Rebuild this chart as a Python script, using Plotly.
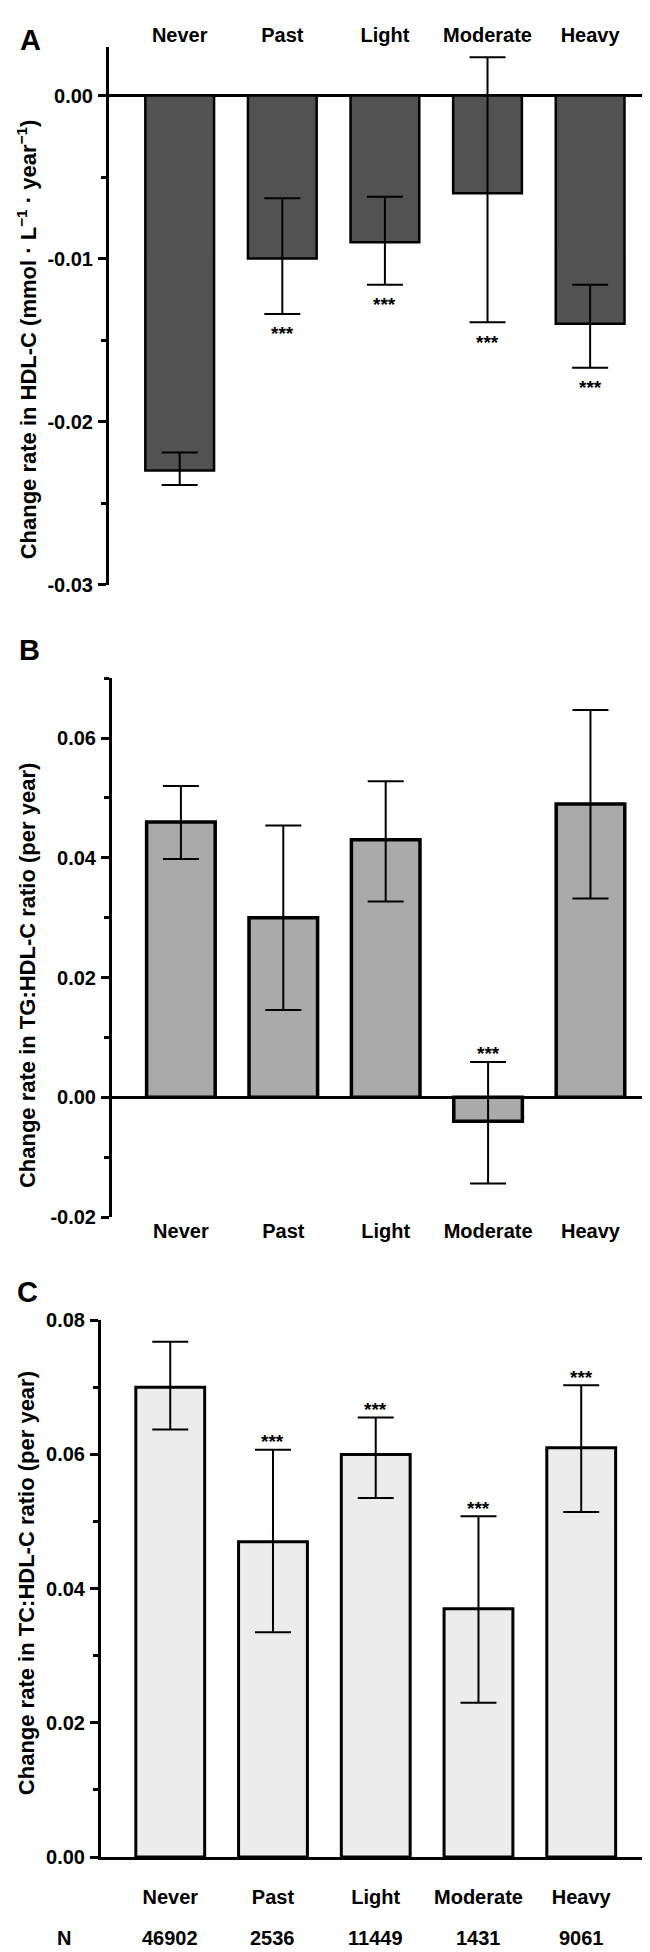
import plotly.graph_objects as go

W, H = 650, 1952
FONT = "Liberation Sans, Arial, Helvetica, sans-serif"

categories = ["Never", "Past", "Light", "Moderate", "Heavy"]
n_counts = ["46902", "2536", "11449", "1431", "9061"]

# Panel A: change rate in HDL-C
hdl_mean = [-0.0230, -0.0100, -0.0090, -0.0060, -0.0140]
hdl_upper = [-0.0219, -0.0063, -0.0062, 0.00235, -0.0116]
hdl_lower = [-0.0239, -0.0134, -0.0116, -0.0139, -0.0167]
hdl_sig = [False, True, True, True, True]

# Panel B: change rate in TG:HDL-C ratio
tg_mean = [0.0460, 0.0300, 0.0430, -0.0040, 0.0490]
tg_upper = [0.0520, 0.0454, 0.0528, 0.0059, 0.0647]
tg_lower = [0.0398, 0.0146, 0.0327, -0.0144, 0.0332]
tg_sig = [False, False, False, True, False]

# Panel C: change rate in TC:HDL-C ratio
tc_mean = [0.0700, 0.0470, 0.0600, 0.0370, 0.0610]
tc_upper = [0.0768, 0.0607, 0.0655, 0.0508, 0.0703]
tc_lower = [0.0637, 0.0335, 0.0535, 0.0230, 0.0514]
tc_sig = [False, True, True, True, True]

yticks_a = [0.0, -0.01, -0.02, -0.03]
yticktext_a = ["0.00", "-0.01", "-0.02", "-0.03"]
yticks_b = [0.06, 0.04, 0.02, 0.0, -0.02]
yticktext_b = ["0.06", "0.04", "0.02", "0.00", "-0.02"]
yticks_c = [0.08, 0.06, 0.04, 0.02, 0.0]
yticktext_c = ["0.08", "0.06", "0.04", "0.02", "0.00"]

titles = [
    "Change rate in HDL-C (mmol · L<sup>−1</sup> · year<sup>−1</sup>)",
    "Change rate in TG:HDL-C ratio (per year)",
    "Change rate in TC:HDL-C ratio (per year)",
]


def px_x(v):
    return v / W


def px_y(v):
    return 1 - v / H


panels = [
    dict(mean=hdl_mean, up=hdl_upper, lo=hdl_lower, sig=hdl_sig, color="#525252", lw=2.5,
         xdom=[101, 648], ydom=[28, 572], xr=[-0.689, 4.642], yr=[-0.03, 0.003],
         tv=yticks_a, tt=yticktext_a, minor=0.005, side="top", stars="below",
         title_xy=(19, 324), letter="A", letter_xy=(22, 21)),
    dict(mean=tg_mean, up=tg_upper, lo=tg_lower, sig=tg_sig, color="#aaaaaa", lw=3.5,
         xdom=[104, 648], ydom=[666.7, 1211.7], xr=[-0.673, 4.64], yr=[-0.02, 0.07],
         tv=yticks_b, tt=yticktext_b, minor=0.01, side="bottom", stars="above",
         title_xy=(19, 968), letter="B", letter_xy=(21, 638)),
    dict(mean=tc_mean, up=tc_upper, lo=tc_lower, sig=tc_sig, color="#ececec", lw=3,
         xdom=[93, 640], ydom=[1316, 1859], xr=[-0.674, 4.65], yr=[0, 0.08],
         tv=yticks_c, tt=yticktext_c, minor=0.01, side="bottom", stars="above",
         title_xy=(18, 1582), letter="C", letter_xy=(19, 1288)),
]

fig = go.Figure()
annotations = []

for i, p in enumerate(panels):
    k = "" if i == 0 else str(i + 1)
    xa, ya = "x" + k, "y" + k
    plus = [u - m for u, m in zip(p["up"], p["mean"])]
    minus = [m - l for m, l in zip(p["mean"], p["lo"])]
    fig.add_trace(go.Bar(
        x=categories, y=p["mean"], xaxis=xa, yaxis=ya,
        marker=dict(color=p["color"], line=dict(color="black", width=p["lw"])),
        width=0.67,
        error_y=dict(type="data", symmetric=False, array=plus, arrayminus=minus,
                     color="black", thickness=2, width=18),
        showlegend=False, hoverinfo="skip",
    ))

    xaxis = dict(
        domain=[px_x(p["xdom"][0]), px_x(p["xdom"][1])],
        range=p["xr"], anchor=ya, side=p["side"],
        showgrid=False, zeroline=False, showline=False, ticks="",
        tickfont=dict(family=FONT, size=20, color="black", weight="bold"),
        fixedrange=True,
    )
    if i == 2:
        xaxis.update(showline=True, linewidth=3, linecolor="black", ticklabelstandoff=20)
    yaxis = dict(
        domain=[px_y(p["ydom"][1]), px_y(p["ydom"][0])],
        range=p["yr"], anchor=xa,
        showgrid=False, showline=True, linewidth=3, linecolor="black",
        zeroline=(i != 2), zerolinewidth=3, zerolinecolor="black",
        tickmode="array", tickvals=p["tv"], ticktext=p["tt"],
        ticks="outside", ticklen=8, tickwidth=3, tickcolor="black",
        minor=dict(dtick=p["minor"], tick0=0, ticks="outside", ticklen=5,
                   tickwidth=3, tickcolor="black", showgrid=False),
        tickfont=dict(family=FONT, size=20, color="black", weight="bold"),
        ticklabelstandoff=1,
        fixedrange=True,
    )
    fig.update_layout(**{"xaxis" + k: xaxis, "yaxis" + k: yaxis})

    # significance stars
    for c, s, u, l in zip(categories, p["sig"], p["up"], p["lo"]):
        if not s:
            continue
        if p["stars"] == "below":
            annotations.append(dict(x=c, y=l, xref=xa, yref=ya, text="***",
                                    showarrow=False, yanchor="middle", yshift=-20,
                                    font=dict(family=FONT, size=19, color="black", weight="bold")))
        else:
            annotations.append(dict(x=c, y=u, xref=xa, yref=ya, text="***",
                                    showarrow=False, yanchor="middle", yshift=8,
                                    font=dict(family=FONT, size=19, color="black", weight="bold")))

    # y-axis title
    tx, ty = p["title_xy"]
    annotations.append(dict(x=px_x(tx), y=px_y(ty), xref="paper", yref="paper",
                            text=titles[i], textangle=-90, showarrow=False,
                            xanchor="center", yanchor="middle",
                            font=dict(family=FONT, size=22, color="black", weight="bold")))
    # panel letter
    lx, ly = p["letter_xy"]
    annotations.append(dict(x=px_x(lx), y=px_y(ly), xref="paper", yref="paper",
                            text=p["letter"], showarrow=False,
                            xanchor="center", yanchor="middle",
                            font=dict(family=FONT, size=29, color="black", weight="bold")))

# N row
annotations.append(dict(x=px_x(56), y=px_y(1941), xref="paper", yref="paper", text="N",
                        showarrow=False, xanchor="center", yanchor="middle",
                        font=dict(family=FONT, size=20, color="black", weight="bold")))
for c, n in zip(categories, n_counts):
    annotations.append(dict(x=c, y=px_y(1941), xref="x3", yref="paper", text=n,
                            showarrow=False, xanchor="center", yanchor="middle",
                            font=dict(family=FONT, size=20, color="black", weight="bold")))

fig.update_layout(
    width=W, height=H,
    margin=dict(l=0, r=0, t=0, b=0),
    paper_bgcolor="white", plot_bgcolor="white",
    annotations=annotations,
    bargap=0.33,
)

fig.write_html("out.html")
